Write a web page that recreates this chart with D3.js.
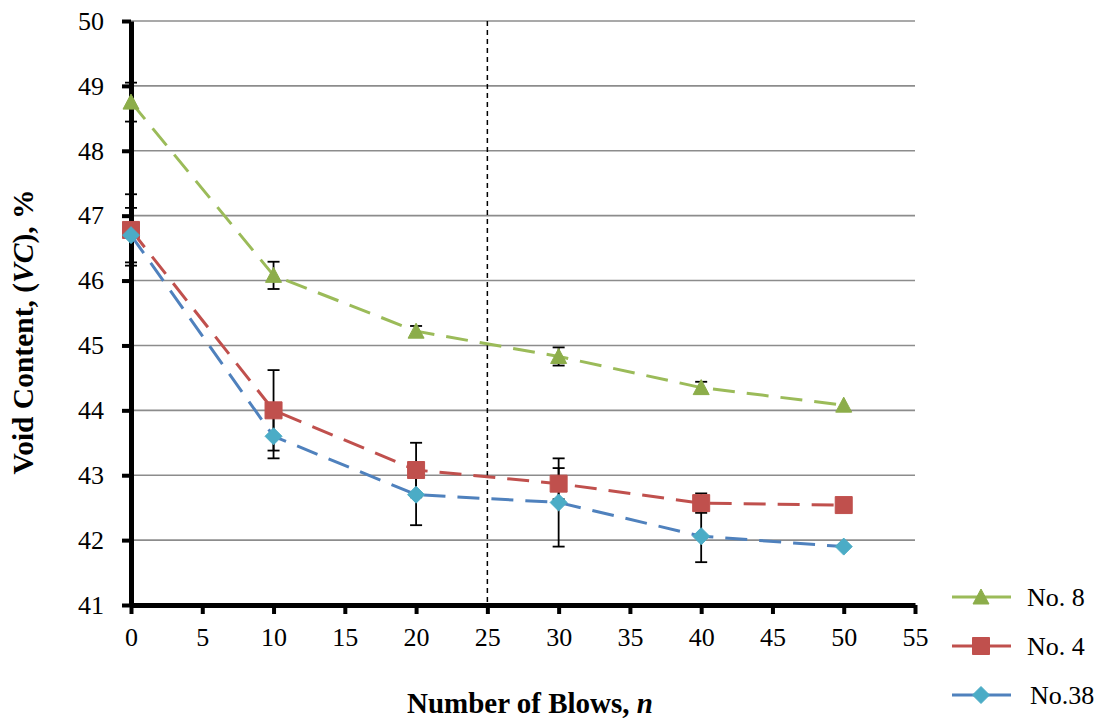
<!DOCTYPE html>
<html>
<head>
<meta charset="utf-8">
<script src="https://cdn.jsdelivr.net/npm/d3@7"></script>
<style>
  html, body { margin: 0; padding: 0; background: #fff; }
  svg, svg text { font-family: "Liberation Serif", "Times New Roman", serif; }
</style>
</head>
<body>
<svg id="chart" width="1109" height="719"></svg>
<script>
// Number of compaction blows
const blows = [0, 10, 20, 30, 40, 50];

// Void content (%) per aggregate gradation
const no8  = [48.75, 46.08, 45.22, 44.83, 44.35, 44.08];
const no4  = [46.78, 44.00, 43.08, 42.87, 42.57, 42.54];
const no38 = [46.70, 43.60, 42.70, 42.58, 42.06, 41.90];

// Standard deviation (error bar half-widths)
const no8Err  = [0.30, 0.21, 0.08, 0.14, 0.09, 0.00];
const no4Err  = [0.55, 0.62, 0.42, 0.24, 0.15, 0.00];
const no38Err = [0.42, 0.34, 0.47, 0.68, 0.40, 0.00];

const xTicks = [0, 5, 10, 15, 20, 25, 30, 35, 40, 45, 50, 55];
const yTicks = [41, 42, 43, 44, 45, 46, 47, 48, 49, 50];
const refBlows = 25;

const series = [
  { name: "No. 8", values: no8, err: no8Err, line: "#9BBB59", fill: "#8CAD4A", marker: "triangle" },
  { name: "No. 4", values: no4, err: no4Err, line: "#C0504D", fill: "#C0504D", marker: "square" },
  { name: "No.38", values: no38, err: no38Err, line: "#4F81BD", fill: "#4BACC6", marker: "diamond" }
];

const svg = d3.select("#chart");
const plotLeft = 131, plotRight = 915, plotTop = 21, plotBottom = 605;
const serif = '"Liberation Serif", "Times New Roman", serif';

const x = d3.scaleLinear().domain([0, 55]).range([plotLeft, plotRight]);
const y = d3.scaleLinear().domain([41, 50]).range([plotBottom, plotTop]);

// Horizontal gridlines
svg.append("g")
  .selectAll("line")
  .data(yTicks.filter(v => v > 41))
  .join("line")
  .attr("x1", plotLeft).attr("x2", plotRight)
  .attr("y1", d => y(d)).attr("y2", d => y(d))
  .attr("stroke", "#8c8c8c").attr("stroke-width", 1.6);

// Reference line at 25 blows
svg.append("line")
  .attr("x1", x(refBlows)).attr("x2", x(refBlows))
  .attr("y1", y(50)).attr("y2", y(41))
  .attr("stroke", "#000").attr("stroke-width", 1.5)
  .attr("stroke-dasharray", "5,4");

// Axes
const yAxis = d3.axisLeft(y).tickValues(yTicks).tickSize(9).tickSizeOuter(0)
  .tickPadding(18).tickFormat(d3.format("d"));
const yg = svg.append("g").attr("transform", `translate(${plotLeft},0)`).call(yAxis);
yg.style("font-family", serif);
yg.select(".domain").attr("stroke", "#000").attr("stroke-width", 5);
yg.selectAll(".tick line").attr("stroke", "#000").attr("stroke-width", 4);
yg.selectAll(".tick text").attr("font-size", 26).attr("fill", "#000").style("font-family", serif);

const xAxis = d3.axisBottom(x).tickValues(xTicks).tickSize(9).tickSizeOuter(0).tickPadding(14);
const xg = svg.append("g").attr("transform", `translate(0,${plotBottom})`).call(xAxis);
xg.style("font-family", serif);
xg.select(".domain").attr("stroke", "#000").attr("stroke-width", 5);
xg.selectAll(".tick line").attr("stroke", "#000").attr("stroke-width", 4);
xg.selectAll(".tick text").attr("font-size", 26).attr("fill", "#000").style("font-family", serif);

// Marker shapes
function markerPath(type) {
  if (type === "triangle") return "M0,-8L8,7L-8,7Z";
  if (type === "square") return "M-8.5,-8.5H8.5V8.5H-8.5Z";
  return "M0,-8.5L8.5,0L0,8.5L-8.5,0Z";
}

const lineGen = d3.line().x((d, i) => x(blows[i])).y(d => y(d));

// Dashed series lines
series.forEach(s => {
  svg.append("path")
    .datum(s.values)
    .attr("d", lineGen)
    .attr("fill", "none")
    .attr("stroke", s.line)
    .attr("stroke-width", 3)
    .attr("stroke-dasharray", "22,12");
});

// Error bars
series.forEach(s => {
  const g = svg.append("g");
  s.values.forEach((v, i) => {
    const e = s.err[i];
    if (e <= 0) return;
    const cx = x(blows[i]);
    g.append("line").attr("x1", cx).attr("x2", cx)
      .attr("y1", y(v + e)).attr("y2", y(v - e))
      .attr("stroke", "#000").attr("stroke-width", 1.8);
    [v + e, v - e].forEach(t => {
      g.append("line").attr("x1", cx - 6).attr("x2", cx + 6)
        .attr("y1", y(t)).attr("y2", y(t))
        .attr("stroke", "#000").attr("stroke-width", 1.8);
    });
  });
});

// Markers
series.forEach(s => {
  svg.append("g")
    .selectAll("path")
    .data(s.values)
    .join("path")
    .attr("transform", (d, i) => `translate(${x(blows[i])},${y(d)})`)
    .attr("d", markerPath(s.marker))
    .attr("fill", s.fill)
    .attr("stroke", s.fill)
    .attr("stroke-linejoin", "round")
    .attr("stroke-width", 1);
});

// Axis titles
const yTitle = svg.append("text")
  .attr("transform", "translate(33,332) rotate(-90)")
  .attr("text-anchor", "middle")
  .attr("font-size", 29.5).attr("font-weight", "bold").attr("fill", "#000")
  .style("font-family", serif);
yTitle.append("tspan").text("Void Content, (");
yTitle.append("tspan").attr("font-style", "italic").text("VC");
yTitle.append("tspan").text("),  %");

const xTitle = svg.append("text")
  .attr("x", 530).attr("y", 713)
  .attr("text-anchor", "middle")
  .attr("font-size", 29).attr("font-weight", "bold").attr("fill", "#000")
  .style("font-family", serif);
xTitle.append("tspan").text("Number of Blows, ");
xTitle.append("tspan").attr("font-style", "italic").text("n");

// Legend
const legend = svg.append("g");
series.forEach((s, i) => {
  const ly = 597 + i * 49;
  legend.append("line")
    .attr("x1", 952).attr("x2", 1011).attr("y1", ly).attr("y2", ly)
    .attr("stroke", s.line).attr("stroke-width", 3);
  legend.append("path")
    .attr("transform", `translate(981,${ly})`)
    .attr("d", markerPath(s.marker))
    .attr("fill", s.fill).attr("stroke", s.fill).attr("stroke-linejoin", "round");
  legend.append("text")
    .attr("x", i === 2 ? 1030 : 1027).attr("y", ly + 9)
    .attr("font-size", 26).attr("fill", "#000")
    .style("font-family", serif)
    .text(s.name);
});
</script>
</body>
</html>
